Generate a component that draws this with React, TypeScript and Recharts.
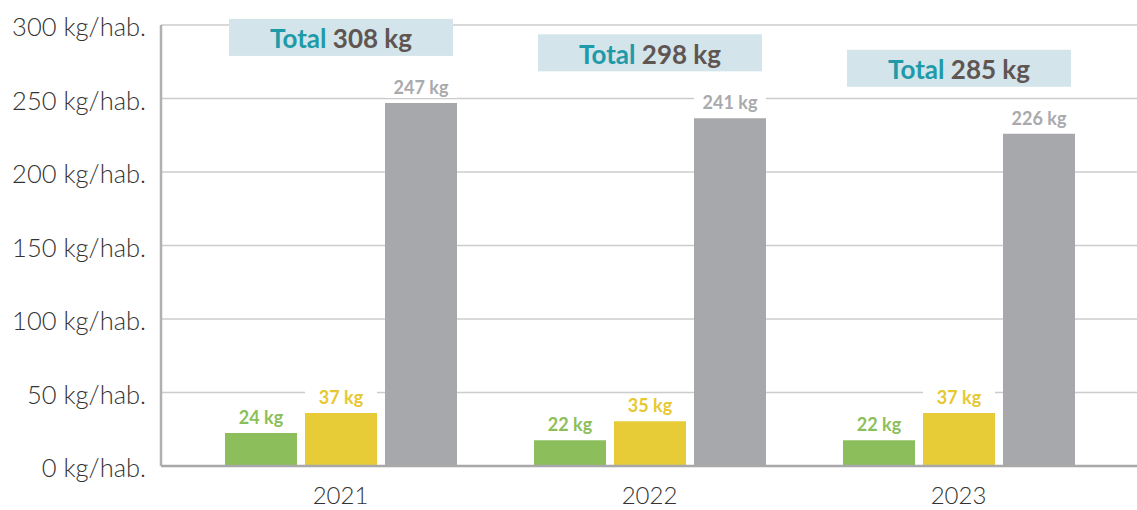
import React from 'react';
import { BarChart, Bar, XAxis, YAxis, CartesianGrid, LabelList } from 'recharts';

const years = ['2021', '2022', '2023'];
// bar heights as drawn
const green = [22.5, 17.5, 17.5];
const yellow = [36, 30.5, 36];
const gray = [247, 236.5, 226];
// printed labels
const greenLabels = ['24 kg', '22 kg', '22 kg'];
const yellowLabels = ['37 kg', '35 kg', '37 kg'];
const grayLabels = ['247 kg', '241 kg', '226 kg'];
const totals = ['308 kg', '298 kg', '285 kg'];
const yTicks = [0, 50, 100, 150, 200, 250, 300];

const data = years.map((year, i) => ({
    year,
    green: green[i],
    yellow: yellow[i],
    gray: gray[i],
    greenLabel: greenLabels[i],
    yellowLabel: yellowLabels[i],
    grayLabel: grayLabels[i],
    total: totals[i],
}));

const FONT = 'Lato, "Open Sans", sans-serif';

const valueLabel = (color: string) => (props: any) => {
    const { x, y, width, value } = props;
    const cx = x + width / 2;
    const cy = y - 16;
    return (
        <g>
            <rect x={x} y={cy - 11} width={width} height={22} fill="#ffffff" />
            <text x={cx} y={cy} textAnchor="middle" dominantBaseline="central"
                fontFamily={FONT} fontWeight={700} fontSize={18} fill={color}>
                {value}
            </text>
        </g>
    );
};

// "Total" box sits above the group, anchored on the gray bar
const TotalBox = (props: any) => {
    const { x, y, width, value } = props;
    const groupCenter = x + width / 2 - 80;
    const boxW = 224;
    const boxH = 37;
    const top = y - 84;
    return (
        <g>
            <rect x={groupCenter - boxW / 2} y={top} width={boxW} height={boxH} fill="#d3e4ea" />
            <text x={groupCenter} y={top + boxH / 2 + 1} textAnchor="middle" dominantBaseline="central"
                fontFamily={FONT} fontWeight={700} fontSize={26}>
                <tspan fill="#1f9aa8">Total </tspan>
                <tspan fill="#5f5551">{value}</tspan>
            </text>
        </g>
    );
};

const YTick = (props: any) => {
    const { x, y, payload } = props;
    return (
        <text x={x} y={y + 1} textAnchor="end" dominantBaseline="central"
            fontFamily={FONT} fontWeight={300} fontSize={25.5} fill="#333333">
            {payload.value} kg/hab.
        </text>
    );
};

const XTick = (props: any) => {
    const { x, y, payload } = props;
    return (
        <text x={x} y={y + 20} textAnchor="middle" dominantBaseline="central"
            fontFamily={FONT} fontWeight={300} fontSize={24} fill="#333333">
            {payload.value}
        </text>
    );
};

export default function App() {
    return (
        <div style={{ position: 'absolute', left: 0, top: 0, width: 1137, height: 510, background: '#ffffff' }}>
            <BarChart
                width={1137}
                height={510}
                data={data}
                margin={{ top: 25, right: 0, bottom: 0, left: 0 }}
                barSize={72}
                barGap={8}
            >
                <CartesianGrid vertical={false} stroke="#cccccc" strokeWidth={1.5} />
                <XAxis
                    dataKey="year"
                    padding={{ left: 25, right: 24 }}
                    axisLine={{ stroke: '#a8a8a8', strokeWidth: 2.5 }}
                    tickLine={false}
                    tick={<XTick />}
                    height={44}
                />
                <YAxis
                    domain={[0, 300]}
                    ticks={yTicks}
                    width={161}
                    axisLine={{ stroke: '#b0b0b0', strokeWidth: 2.5 }}
                    tickLine={false}
                    tickSize={0}
                    tickMargin={15}
                    tick={<YTick />}
                    interval={0}
                />
                <Bar dataKey="green" fill="#8cbf5b" isAnimationActive={false}>
                    <LabelList dataKey="greenLabel" content={valueLabel('#8cbf5b')} />
                </Bar>
                <Bar dataKey="yellow" fill="#e7cc37" isAnimationActive={false}>
                    <LabelList dataKey="yellowLabel" content={valueLabel('#e6c832')} />
                </Bar>
                <Bar dataKey="gray" fill="#a7a8ab" isAnimationActive={false}>
                    <LabelList dataKey="grayLabel" content={valueLabel('#a9aaad')} />
                    <LabelList dataKey="total" content={<TotalBox />} />
                </Bar>
            </BarChart>
        </div>
    );
}
